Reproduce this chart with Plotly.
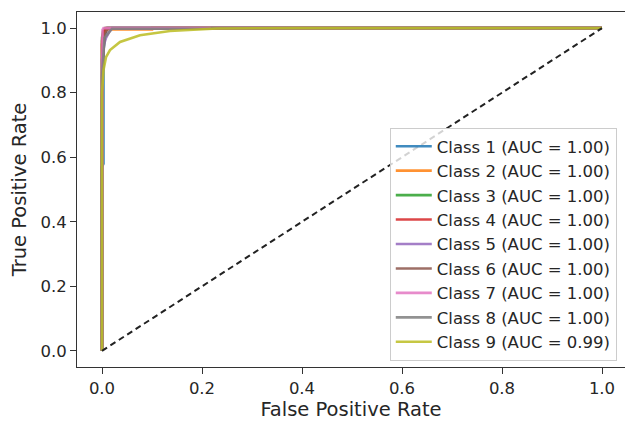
import plotly.graph_objects as go

class_names = ["Class 1 (AUC = 1.00)", "Class 2 (AUC = 1.00)", "Class 3 (AUC = 1.00)",
               "Class 4 (AUC = 1.00)", "Class 5 (AUC = 1.00)", "Class 6 (AUC = 1.00)",
               "Class 7 (AUC = 1.00)", "Class 8 (AUC = 1.00)", "Class 9 (AUC = 0.99)"]
colors = ["#1f77b4", "#ff7f0e", "#2ca02c", "#d62728", "#9467bd",
          "#8c564b", "#e377c2", "#7f7f7f", "#bcbd22"]

fpr_1 = [0, 0, 0.003, 0.003, 0.006, 0.01, 1]
tpr_1 = [0, 0.57, 0.58, 0.93, 0.98, 1, 1]
fpr_2 = [0, 0, 0.004, 0.01, 0.1, 0.1, 1]
tpr_2 = [0, 0.95, 0.985, 0.996, 0.996, 1, 1]
fpr_3 = [0, 0, 0.002, 0.006, 1]
tpr_3 = [0, 0.97, 0.99, 1, 1]
fpr_4 = [0, 0, 0.003, 0.008, 1]
tpr_4 = [0, 0.96, 0.99, 1, 1]
fpr_5 = [0, 0, 0.004, 0.008, 0.015, 0.02, 1]
tpr_5 = [0, 0.9, 0.95, 0.97, 0.99, 1, 1]
fpr_6 = [0, 0, 0.002, 0.005, 0.012, 1]
tpr_6 = [0, 0.78, 0.9, 0.98, 1, 1]
fpr_7 = [0, 0, 0.001, 0.003, 1]
tpr_7 = [0, 0.98, 0.995, 1, 1]
fpr_8 = [0, 0, 0.005, 0.02, 0.22, 0.22, 1]
tpr_8 = [0, 0.85, 0.97, 0.998, 0.998, 1, 1]
fpr_9 = [0, 0, 0.003, 0.008, 0.016, 0.036, 0.076, 0.136, 0.23, 0.4, 1]
tpr_9 = [0, 0.8, 0.87, 0.91, 0.932, 0.957, 0.978, 0.991, 0.999, 1, 1]

fprs = [fpr_1, fpr_2, fpr_3, fpr_4, fpr_5, fpr_6, fpr_7, fpr_8, fpr_9]
tprs = [tpr_1, tpr_2, tpr_3, tpr_4, tpr_5, tpr_6, tpr_7, tpr_8, tpr_9]

diag_x = [0, 1]
diag_y = [0, 1]

x_ticks = [0.0, 0.2, 0.4, 0.6, 0.8, 1.0]
y_ticks = [0.0, 0.2, 0.4, 0.6, 0.8, 1.0]
tick_labels = ["0.0", "0.2", "0.4", "0.6", "0.8", "1.0"]

FONT = "DejaVu Sans"

fig = go.Figure()
for name, c, fx, ty in zip(class_names, colors, fprs, tprs):
    fig.add_trace(go.Scatter(x=fx, y=ty, mode="lines", name=name,
                             line=dict(color=c, width=2.6), opacity=0.85))
fig.add_trace(go.Scatter(x=diag_x, y=diag_y, mode="lines", showlegend=False,
                         line=dict(color="#222222", width=2, dash="6px,4px")))

axis_common = dict(showgrid=False, zeroline=False, showline=True, linecolor="#333333",
                   linewidth=1, ticks="outside", ticklen=6, tickwidth=1, tickcolor="#333333",
                   tickfont=dict(family=FONT, size=16.5, color="#262626"))

fig.update_layout(
    width=625, height=422,
    margin=dict(l=77, r=0, t=12, b=55),
    paper_bgcolor="white", plot_bgcolor="white",
    font=dict(family=FONT, color="#262626"),
    xaxis=dict(range=[-0.05, 1.046], tickvals=x_ticks, ticktext=tick_labels,
               mirror=True,
               title=dict(text="False Positive Rate", font=dict(family=FONT, size=19.5), standoff=4),
               **axis_common),
    yaxis=dict(range=[-0.05, 1.05], tickvals=y_ticks, ticktext=tick_labels,
               title=dict(text="True Positive Rate", font=dict(family=FONT, size=19.5), standoff=8),
               **axis_common),
    legend=dict(x=0.985, y=0.017, xanchor="right", yanchor="bottom",
                bgcolor="rgba(255,255,255,0.8)", bordercolor="#cccccc", borderwidth=1,
                font=dict(family=FONT, size=16.5, color="#262626"),
                itemwidth=36, tracegroupgap=0),
    showlegend=True,
)

fig.write_html("out.html")
